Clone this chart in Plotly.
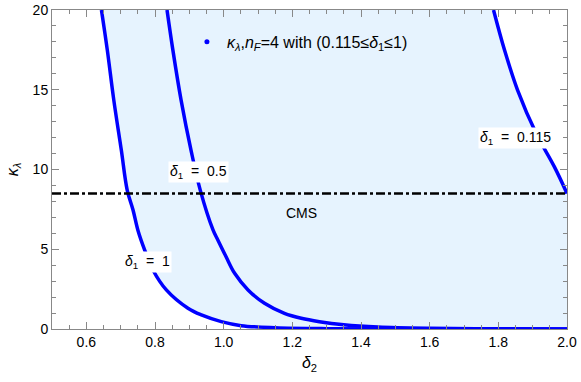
import plotly.graph_objects as go

# delta_2 / kappa_lambda
d2_delta1_1 = [0.644, 0.661, 0.680, 0.702, 0.719, 0.736, 0.750, 0.770, 0.794, 0.833, 0.896, 0.935,
               0.993, 1.051, 1.15, 1.3, 1.6, 2.0]
kl_delta1_1 = [20, 17.5, 14.35, 11.2, 8.71, 7.46, 6.21, 4.95, 3.70, 2.45, 1.30, 0.88,
               0.46, 0.21, 0.08, 0.02, 0.0, 0.0]

d2_delta1_05 = [0.835, 0.852, 0.876, 0.905, 0.932, 0.969, 0.983, 1.007, 1.032, 1.071, 1.119, 1.177,
                1.226, 1.279, 1.35, 1.45, 1.6, 1.8, 2.0]
kl_delta1_05 = [20, 17.5, 14.35, 11.2, 8.69, 6.21, 5.58, 4.53, 3.49, 2.45, 1.61, 0.98,
                0.67, 0.46, 0.27, 0.13, 0.05, 0.01, 0.0]

d2_delta1_0115 = [1.786, 1.818, 1.856, 1.91, 1.963, 2.0]
kl_delta1_0115 = [20, 17.49, 14.98, 12.27, 10.18, 8.5]

cms_x = [0.5, 2.0]
cms_y = [8.5, 8.5]

blue = "#0000FF"
font = "Liberation Sans, Arial, sans-serif"

fig = go.Figure()

# shaded band between delta1 = 1 and delta1 = 0.115
fig.add_trace(go.Scatter(
    x=d2_delta1_1 + d2_delta1_0115[::-1],
    y=kl_delta1_1 + kl_delta1_0115[::-1],
    fill="toself", fillcolor="rgb(230,243,254)",
    mode="none", showlegend=False, hoverinfo="skip"
))

for xs, ys in [(d2_delta1_1, kl_delta1_1), (d2_delta1_05, kl_delta1_05), (d2_delta1_0115, kl_delta1_0115)]:
    fig.add_trace(go.Scatter(
        x=xs, y=ys, mode="lines",
        line=dict(color=blue, width=3.5, shape="spline", smoothing=1.0),
        showlegend=False
    ))

fig.add_trace(go.Scatter(
    x=cms_x, y=cms_y, mode="lines",
    line=dict(color="black", width=2.5, dash="dashdot"),
    showlegend=False
))

# legend entry only
fig.add_trace(go.Scatter(
    x=[None], y=[None], mode="markers",
    marker=dict(color=blue, size=5),
    name="<i>κ</i><sub><i>λ</i></sub>,<i>n</i><sub><i>F</i></sub>=4 with (0.115≤<i>δ</i><sub>1</sub>≤1)"
))

labels = [
    (0.926, 9.82, "<i>δ</i><sub>1</sub>  =  0.5", "white"),
    (0.777, 4.23, "<i>δ</i><sub>1</sub>  =  1", "white"),
    (1.85, 11.96, "<i>δ</i><sub>1</sub>  =  0.115", "white"),
    (1.226, 7.3, "CMS", "rgba(0,0,0,0)"),
]
for x, y, t, bg in labels:
    fig.add_annotation(
        x=x, y=y, text=t, showarrow=False,
        bgcolor=bg, borderpad=1,
        font=dict(family=font, size=14, color="black")
    )

axis_common = dict(
    showline=True, linecolor="#888888", linewidth=1, mirror="allticks",
    ticks="inside", ticklen=7, tickcolor="#888888",
    showgrid=False, zeroline=False, automargin=False,
    tickfont=dict(family=font, size=14, color="black"),
)

fig.update_xaxes(
    range=[0.5, 2.0], dtick=0.2, tick0=0.6, tickformat=".1f",
    minor=dict(ticks="inside", dtick=0.05, ticklen=4, tickcolor="#888888"),
    title=dict(text="<i>δ</i><sub>2</sub>", font=dict(family=font, size=16, color="black"), standoff=8),
    **axis_common
)
fig.update_yaxes(
    range=[0, 20], dtick=5,
    minor=dict(ticks="inside", dtick=1, ticklen=4, tickcolor="#888888"),
    title=dict(text="<i>κ</i><sub><i>λ</i></sub>", font=dict(family=font, size=16, color="black"), standoff=10),
    **axis_common
)

fig.update_layout(
    width=581, height=382, autosize=False,
    margin=dict(l=52, r=14, t=10, b=53),
    plot_bgcolor="white", paper_bgcolor="white",
    font=dict(family=font, color="black"),
    legend=dict(
        x=0.262, y=0.9, xanchor="left", yanchor="middle",
        bgcolor="rgba(0,0,0,0)", font=dict(family=font, size=16, color="black"),
        itemwidth=30
    ),
)

fig.write_html(
    "out.html",
    config={"displayModeBar": False, "responsive": False},
    post_script="document.body.style.margin='0';",
)
